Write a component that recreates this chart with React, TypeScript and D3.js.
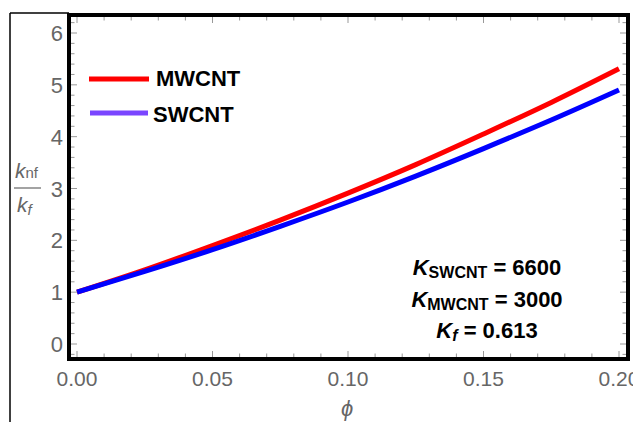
import React from 'react'
import * as d3 from 'd3'

// volume fraction (phi) and k_nf/k_f
const phi = [0, 0.025, 0.05, 0.075, 0.1, 0.125, 0.15, 0.175, 0.2]
const mwcnt = [1, 1.43, 1.9, 2.39, 2.91, 3.46, 4.05, 4.66, 5.31]
const swcnt = [1, 1.4, 1.82, 2.27, 2.74, 3.24, 3.77, 4.32, 4.9]

const xTicks = [0, 0.05, 0.1, 0.15, 0.2]
const xTickLabels = ['0.00', '0.05', '0.10', '0.15', '0.20']
const yTicks = [0, 1, 2, 3, 4, 5, 6]
const yTickLabels = ['0', '1', '2', '3', '4', '5', '6']

const legendNames = ['MWCNT', 'SWCNT']

const W = 633
const H = 422
const frame = { left: 69, right: 628, top: 15, bottom: 359 }

const Chart = () => {
  const x = d3.scaleLinear().domain([0, 0.2]).range([77, 619])
  const y = d3.scaleLinear().domain([0, 6]).range([344, 33])

  const line = d3
    .line<number>()
    .x((d, i) => x(phi[i]))
    .y(d => y(d))
    .curve(d3.curveMonotoneX)

  const xMinor = d3.range(-0.002, 0.2051, 0.01).map(v => Math.round(v * 100) / 100).filter(v => v >= 0 && v <= 0.2)
  const yMinor = d3.range(-0.2, 6.4, 0.2).map(v => Math.round(v * 10) / 10)

  const tickColor = '#999'
  const labelColor = '#666'
  const font = "'Liberation Sans', Arial, sans-serif"

  return (
    <svg width={W} height={H} style={{ position: 'absolute', left: 0, top: 0, display: 'block' }} fontFamily={font}>
      <rect width={W} height={H} fill='#fff' />

      {/* thin outer figure border */}
      <line x1={10} y1={13} x2={10} y2={H} stroke='#000' strokeWidth={1.5} />
      <line x1={10} y1={13} x2={frame.left} y2={13} stroke='#000' strokeWidth={1.5} />

      {/* ticks on all four sides */}
      {xMinor.map(v => {
        const major = xTicks.some(t => Math.abs(t - v) < 1e-6)
        const len = major ? 6 : 3.5
        return (
          <g key={'xt' + v} stroke={tickColor} strokeWidth={1}>
            <line x1={x(v)} x2={x(v)} y1={frame.bottom - 2} y2={frame.bottom - 2 - len} />
            <line x1={x(v)} x2={x(v)} y1={frame.top + 2} y2={frame.top + 2 + len} />
          </g>
        )
      })}
      {yMinor.map(v => {
        const major = Number.isInteger(v)
        const len = major ? 6 : 3.5
        return (
          <g key={'yt' + v} stroke={tickColor} strokeWidth={1}>
            <line x1={frame.left + 2} x2={frame.left + 2 + len} y1={y(v)} y2={y(v)} />
            <line x1={frame.right - 2} x2={frame.right - 2 - len} y1={y(v)} y2={y(v)} />
          </g>
        )
      })}

      {/* curves */}
      <path d={line(mwcnt) || ''} fill='none' stroke='#ff0000' strokeWidth={5} />
      <path d={line(swcnt) || ''} fill='none' stroke='#0000ff' strokeWidth={5} />

      {/* frame */}
      <rect
        x={frame.left}
        y={frame.top}
        width={frame.right - frame.left}
        height={frame.bottom - frame.top}
        fill='none'
        stroke='#000'
        strokeWidth={4}
      />

      {/* tick labels */}
      {xTicks.map((v, i) => (
        <text key={'xl' + v} x={x(v)} y={386} textAnchor='middle' fontSize={21} fill={labelColor}>
          {xTickLabels[i]}
        </text>
      ))}
      {yTicks.map((v, i) => (
        <text key={'yl' + v} x={63} y={y(v) + 8} textAnchor='end' fontSize={22} fill={labelColor}>
          {yTickLabels[i]}
        </text>
      ))}

      {/* axis labels */}
      <text x={347} y={416} textAnchor='middle' fontSize={22} fontStyle='italic' fill={labelColor}>
        ϕ
      </text>
      <g fill={labelColor}>
        <text x={15} y={178} fontSize={21}>
          <tspan fontStyle='italic'>k</tspan>
          <tspan fontSize={15}>nf</tspan>
        </text>
        <line x1={14} x2={41} y1={188} y2={188} stroke={labelColor} strokeWidth={1.2} />
        <text x={17} y={212} fontSize={21}>
          <tspan fontStyle='italic'>k</tspan>
          <tspan fontSize={15} fontStyle='italic' dy={3}>f</tspan>
        </text>
      </g>

      {/* legend */}
      <line x1={89} x2={149} y1={79} y2={79} stroke='#ff0000' strokeWidth={5} />
      <text x={156} y={86} fontSize={22} fontWeight='bold' fill='#000'>
        {legendNames[0]}
      </text>
      <line x1={90} x2={148} y1={113} y2={113} stroke='#7a45ff' strokeWidth={5} />
      <text x={153} y={122} fontSize={22} fontWeight='bold' fill='#000'>
        {legendNames[1]}
      </text>

      {/* parameter annotation */}
      <g fontWeight='bold' fill='#000' textAnchor='middle'>
        <text x={487} y={275} fontSize={22}>
          <tspan fontStyle='italic'>K</tspan>
          <tspan fontSize={16} dy={3}>SWCNT</tspan>
          <tspan dy={-3}> = 6600</tspan>
        </text>
        <text x={487} y={307} fontSize={22}>
          <tspan fontStyle='italic'>K</tspan>
          <tspan fontSize={16} dy={3}>MWCNT</tspan>
          <tspan dy={-3}> = 3000</tspan>
        </text>
        <text x={487} y={338} fontSize={22}>
          <tspan fontStyle='italic'>K</tspan>
          <tspan fontSize={16} fontStyle='italic' dy={3}>f</tspan>
          <tspan dy={-3}> = 0.613</tspan>
        </text>
      </g>
    </svg>
  )
}

const App = () => <Chart />

export default App
